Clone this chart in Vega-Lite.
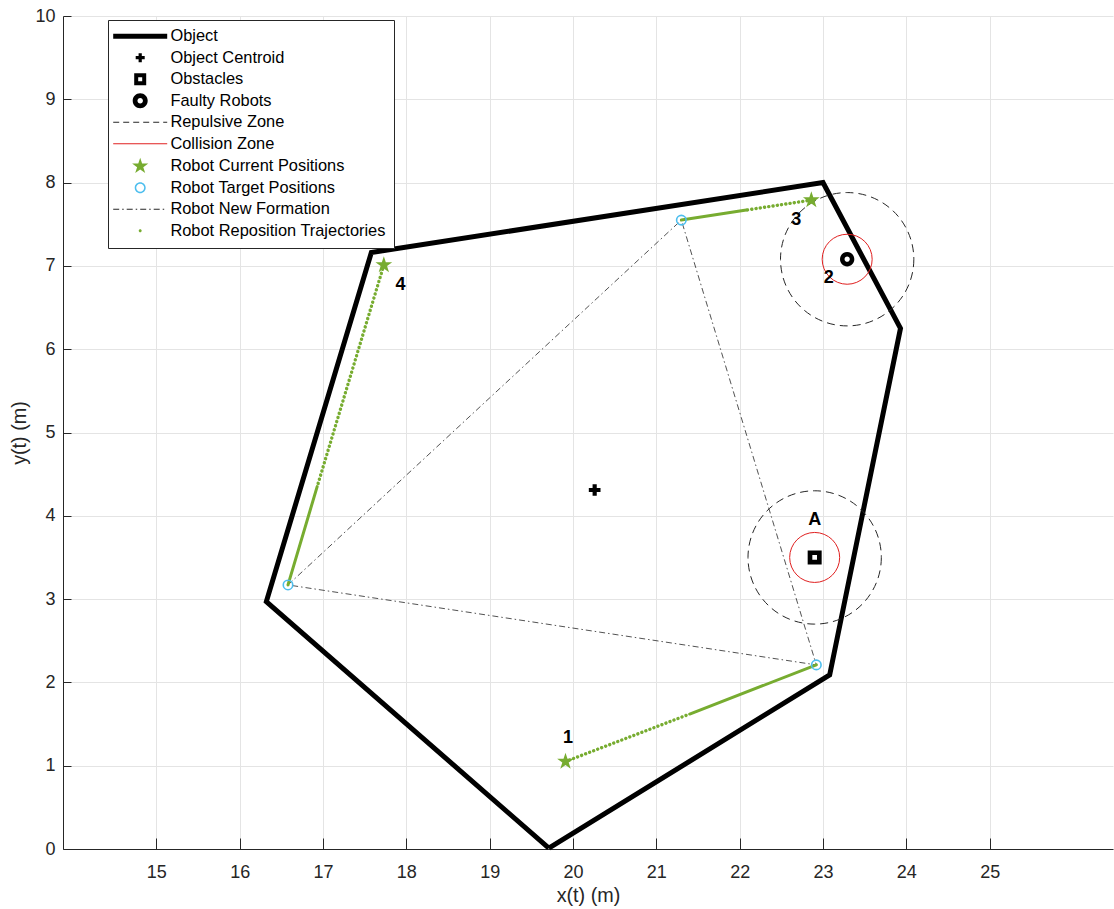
{
  "$schema": "https://vega.github.io/schema/vega-lite/v6.json",
  "width": 1050,
  "height": 833,
  "autosize": {"type": "none"},
  "padding": {"left": 63, "top": 16, "right": 1, "bottom": 60},
  "background": "#ffffff",
  "config": {
    "view": {"stroke": null},
    "axis": {
      "labelFont": "Liberation Sans",
      "titleFont": "Liberation Sans",
      "labelFontSize": 18,
      "titleFontSize": 19.8,
      "titleFontWeight": "normal",
      "labelColor": "#262626",
      "titleColor": "#262626",
      "domainColor": "#262626",
      "domainWidth": 1,
      "tickColor": "#262626",
      "tickWidth": 1,
      "gridColor": "#e4e4e4",
      "gridWidth": 1,
      "labelFlush": false,
      "labelOverlap": false
    }
  },
  "datasets": {
    "object": [
      {"i": 0, "x": 19.71, "y": 0.01},
      {"i": 1, "x": 16.32, "y": 2.97},
      {"i": 2, "x": 17.58, "y": 7.16},
      {"i": 3, "x": 23.0, "y": 8.0},
      {"i": 4, "x": 23.93, "y": 6.25},
      {"i": 5, "x": 23.08, "y": 2.09},
      {"i": 6, "x": 19.71, "y": 0.01}
    ],
    "zones": [
      {"series": "Repulsive Zone", "site": "A", "x": 22.9, "y": 3.5, "r": 0.8},
      {"series": "Repulsive Zone", "site": "2", "x": 23.29, "y": 7.08, "r": 0.8},
      {"series": "Collision Zone", "site": "A", "x": 22.9, "y": 3.5, "r": 0.3},
      {"series": "Collision Zone", "site": "2", "x": 23.29, "y": 7.08, "r": 0.3}
    ],
    "formation": [
      {"i": 0, "x": 16.58, "y": 3.17},
      {"i": 1, "x": 21.3, "y": 7.55},
      {"i": 2, "x": 22.92, "y": 2.21},
      {"i": 3, "x": 16.58, "y": 3.17}
    ],
    "paths": [
      {"robot": 1, "part": "dotted", "i": 0, "x": 19.91, "y": 1.05},
      {"robot": 1, "part": "dotted", "i": 1, "x": 21.4, "y": 1.62},
      {"robot": 1, "part": "solid", "i": 0, "x": 21.4, "y": 1.62},
      {"robot": 1, "part": "solid", "i": 1, "x": 22.92, "y": 2.21},
      {"robot": 3, "part": "dotted", "i": 0, "x": 22.86, "y": 7.79},
      {"robot": 3, "part": "dotted", "i": 1, "x": 22.08, "y": 7.67},
      {"robot": 3, "part": "solid", "i": 0, "x": 22.08, "y": 7.67},
      {"robot": 3, "part": "solid", "i": 1, "x": 21.3, "y": 7.55},
      {"robot": 4, "part": "dotted", "i": 0, "x": 17.73, "y": 7.01},
      {"robot": 4, "part": "dotted", "i": 1, "x": 16.93, "y": 4.35},
      {"robot": 4, "part": "solid", "i": 0, "x": 16.93, "y": 4.35},
      {"robot": 4, "part": "solid", "i": 1, "x": 16.58, "y": 3.17}
    ],
    "markers": [
      {"series": "Object Centroid", "x": 20.26, "y": 4.31},
      {"series": "Obstacles", "x": 22.9, "y": 3.5},
      {"series": "Faulty Robots", "x": 23.29, "y": 7.08},
      {"series": "Robot Current Positions", "robot": 1, "x": 19.91, "y": 1.05},
      {"series": "Robot Current Positions", "robot": 3, "x": 22.86, "y": 7.79},
      {"series": "Robot Current Positions", "robot": 4, "x": 17.73, "y": 7.01},
      {"series": "Robot Target Positions", "robot": 1, "x": 22.92, "y": 2.21},
      {"series": "Robot Target Positions", "robot": 3, "x": 21.3, "y": 7.55},
      {"series": "Robot Target Positions", "robot": 4, "x": 16.58, "y": 3.17}
    ],
    "labels": [
      {"label": "1", "x": 19.94, "y": 1.33},
      {"label": "2", "x": 23.07, "y": 6.85},
      {"label": "3", "x": 22.68, "y": 7.55},
      {"label": "4", "x": 17.93, "y": 6.77},
      {"label": "A", "x": 22.9, "y": 3.95}
    ]
  },
  "layer": [
    {
      "data": {"name": "object"},
      "mark": {"type": "line", "color": "#000000", "strokeWidth": 5, "strokeJoin": "miter", "strokeCap": "butt"},
      "encoding": {
        "x": {
          "field": "x", "type": "quantitative",
          "scale": {"domain": [13.88, 26.48], "nice": false, "zero": false},
          "axis": {"title": "x(t) (m)", "values": [15, 16, 17, 18, 19, 20, 21, 22, 23, 24, 25], "format": "d", "grid": true, "tickSize": -11, "labelPadding": 25, "titlePadding": 4}
        },
        "y": {
          "field": "y", "type": "quantitative",
          "scale": {"domain": [0, 10], "nice": false, "zero": false},
          "axis": {"title": "y(t) (m)", "values": [0, 1, 2, 3, 4, 5, 6, 7, 8, 9, 10], "format": "d", "grid": true, "tickSize": -8, "labelPadding": 16, "titlePadding": 5}
        },
        "order": {"field": "i", "type": "quantitative"}
      }
    },
    {
      "data": {"name": "zones"},
      "transform": [{"filter": "datum.series === 'Repulsive Zone'"}],
      "mark": {"type": "point", "shape": "circle", "filled": false, "stroke": "#262626", "strokeWidth": 1, "strokeDash": [8, 5], "opacity": 1},
      "encoding": {
        "x": {"field": "x", "type": "quantitative"},
        "y": {"field": "y", "type": "quantitative"},
        "size": {"field": "r", "type": "quantitative", "scale": {"type": "pow", "exponent": 2, "domain": [0, 1], "range": [0, 27778]}, "legend": null}
      }
    },
    {
      "data": {"name": "zones"},
      "transform": [{"filter": "datum.series === 'Collision Zone'"}],
      "mark": {"type": "point", "shape": "circle", "filled": false, "stroke": "#e02020", "strokeWidth": 1, "opacity": 1},
      "encoding": {
        "x": {"field": "x", "type": "quantitative"},
        "y": {"field": "y", "type": "quantitative"},
        "size": {"field": "r", "type": "quantitative", "legend": null}
      }
    },
    {
      "data": {"name": "formation"},
      "mark": {"type": "line", "color": "#262626", "strokeWidth": 0.8, "strokeDash": [6, 3, 1.5, 3]},
      "encoding": {
        "x": {"field": "x", "type": "quantitative"},
        "y": {"field": "y", "type": "quantitative"},
        "order": {"field": "i", "type": "quantitative"}
      }
    },
    {
      "data": {"name": "paths"},
      "transform": [{"filter": "datum.part === 'dotted'"}],
      "mark": {"type": "line", "color": "#77ac30", "strokeWidth": 3.4, "strokeCap": "round", "strokeDash": [0.1, 4.2]},
      "encoding": {
        "x": {"field": "x", "type": "quantitative"},
        "y": {"field": "y", "type": "quantitative"},
        "detail": {"field": "robot", "type": "nominal"},
        "order": {"field": "i", "type": "quantitative"}
      }
    },
    {
      "data": {"name": "paths"},
      "transform": [{"filter": "datum.part === 'solid'"}],
      "mark": {"type": "line", "color": "#77ac30", "strokeWidth": 3, "strokeCap": "round"},
      "encoding": {
        "x": {"field": "x", "type": "quantitative"},
        "y": {"field": "y", "type": "quantitative"},
        "detail": {"field": "robot", "type": "nominal"},
        "order": {"field": "i", "type": "quantitative"}
      }
    },
    {
      "data": {"name": "markers"},
      "transform": [{"filter": "datum.series === 'Robot Target Positions'"}],
      "mark": {"type": "point", "shape": "circle", "filled": false, "stroke": "#4dbeee", "strokeWidth": 1.6, "size": 90, "opacity": 1},
      "encoding": {
        "x": {"field": "x", "type": "quantitative"},
        "y": {"field": "y", "type": "quantitative"}
      }
    },
    {
      "data": {"name": "markers"},
      "transform": [{"filter": "datum.series === 'Robot Current Positions'"}],
      "mark": {"type": "point", "shape": "M0,-1L0.2245,-0.309L0.951,-0.309L0.3633,0.118L0.5878,0.809L0,0.382L-0.5878,0.809L-0.3633,0.118L-0.951,-0.309L-0.2245,-0.309Z", "filled": true, "fill": "#77ac30", "strokeWidth": 0, "size": 310, "opacity": 1},
      "encoding": {
        "x": {"field": "x", "type": "quantitative"},
        "y": {"field": "y", "type": "quantitative"}
      }
    },
    {
      "data": {"name": "markers"},
      "transform": [{"filter": "datum.series === 'Obstacles'"}],
      "mark": {"type": "point", "shape": "M-1.2,-1.2H1.2V1.2H-1.2ZM-0.4,-0.4V0.4H0.4V-0.4Z", "filled": true, "fill": "#000000", "strokeWidth": 0, "size": 136, "opacity": 1},
      "encoding": {
        "x": {"field": "x", "type": "quantitative"},
        "y": {"field": "y", "type": "quantitative"}
      }
    },
    {
      "data": {"name": "markers"},
      "transform": [{"filter": "datum.series === 'Faulty Robots'"}],
      "mark": {"type": "point", "shape": "M1.5,0C1.5,0.828,0.828,1.5,0,1.5C-0.828,1.5,-1.5,0.828,-1.5,0C-1.5,-0.828,-0.828,-1.5,0,-1.5C0.828,-1.5,1.5,-0.828,1.5,0ZM0.55,0C0.55,-0.304,0.304,-0.55,0,-0.55C-0.304,-0.55,-0.55,-0.304,-0.55,0C-0.55,0.304,-0.304,0.55,0,0.55C0.304,0.55,0.55,0.304,0.55,0Z", "filled": true, "fill": "#000000", "strokeWidth": 0, "size": 91, "opacity": 1},
      "encoding": {
        "x": {"field": "x", "type": "quantitative"},
        "y": {"field": "y", "type": "quantitative"}
      }
    },
    {
      "data": {"name": "markers"},
      "transform": [{"filter": "datum.series === 'Object Centroid'"}],
      "mark": {"type": "point", "filled": true, "strokeWidth": 0, "size": 169, "opacity": 1},
      "encoding": {
        "x": {"field": "x", "type": "quantitative"},
        "y": {"field": "y", "type": "quantitative"},
        "color": {
          "field": "series", "type": "nominal",
          "scale": {
            "domain": ["Object", "Object Centroid", "Obstacles", "Faulty Robots", "Repulsive Zone", "Collision Zone", "Robot Current Positions", "Robot Target Positions", "Robot New Formation", "Robot Reposition Trajectories"],
            "range": ["#000000", "#000000", "#000000", "#000000", "#262626", "#e02020", "#77ac30", "#4dbeee", "#262626", "#77ac30"]
          },
          "legend": {
            "title": null,
            "orient": "none",
            "legendX": 45,
            "legendY": 4,
            "direction": "vertical",
            "padding": 8,
            "rowPadding": 4.5,
            "symbolSize": 100,
            "symbolStrokeWidth": 0,
            "symbolOffset": 16,
            "labelOffset": 22,
            "labelFont": "Liberation Sans",
            "labelFontSize": 16.4,
            "labelColor": "#000000",
            "labelLimit": 400,
            "strokeColor": "#262626",
            "fillColor": "#ffffff"
          }
        },
        "shape": {
          "field": "series", "type": "nominal",
          "scale": {
            "domain": ["Object", "Object Centroid", "Obstacles", "Faulty Robots", "Repulsive Zone", "Collision Zone", "Robot Current Positions", "Robot Target Positions", "Robot New Formation", "Robot Reposition Trajectories"],
            "range": [
              "M-5.4,-0.5H5.4V0.5H-5.4Z",
              "M-0.9,-0.32H-0.32V-0.9H0.32V-0.32H0.9V0.32H0.32V0.9H-0.32V0.32H-0.9Z",
              "M-1.2,-1.2H1.2V1.2H-1.2ZM-0.4,-0.4V0.4H0.4V-0.4Z",
              "M1.5,0C1.5,0.828,0.828,1.5,0,1.5C-0.828,1.5,-1.5,0.828,-1.5,0C-1.5,-0.828,-0.828,-1.5,0,-1.5C0.828,-1.5,1.5,-0.828,1.5,0ZM0.55,0C0.55,-0.304,0.304,-0.55,0,-0.55C-0.304,-0.55,-0.55,-0.304,-0.55,0C-0.55,0.304,-0.304,0.55,0,0.55C0.304,0.55,0.55,0.304,0.55,0Z",
              "M-5.4,-0.1H-4.2V0.1H-5.4ZM-3.4,-0.1H-2.2V0.1H-3.4ZM-1.4,-0.1H-0.2V0.1H-1.4ZM0.6,-0.1H1.8V0.1H0.6ZM2.6,-0.1H3.8V0.1H2.6ZM4.6,-0.1H5.4V0.1H4.6Z",
              "M-5.4,-0.1H5.4V0.1H-5.4Z",
              "M0,-1.7L0.382,-0.525L1.617,-0.525L0.618,0.201L0.999,1.375L0,0.649L-0.999,1.375L-0.618,0.201L-1.617,-0.525L-0.382,-0.525Z",
              "M1.1,0C1.1,0.608,0.608,1.1,0,1.1C-0.608,1.1,-1.1,0.608,-1.1,0C-1.1,-0.608,-0.608,-1.1,0,-1.1C0.608,-1.1,1.1,-0.608,1.1,0ZM0.8,0C0.8,-0.442,0.442,-0.8,0,-0.8C-0.442,-0.8,-0.8,-0.442,-0.8,0C-0.8,0.442,-0.442,0.8,0,0.8C0.442,0.8,0.8,0.442,0.8,0Z",
              "M-5.4,-0.1H-4.2V0.1H-5.4ZM-3.6,-0.1H-3.3V0.1H-3.6ZM-2.7,-0.1H-1.5V0.1H-2.7ZM-0.9,-0.1H-0.6V0.1H-0.9ZM0,-0.1H1.2V0.1H0ZM1.8,-0.1H2.1V0.1H1.8ZM2.7,-0.1H3.9V0.1H2.7ZM4.5,-0.1H4.8V0.1H4.5Z",
              "M0.3,0C0.3,0.166,0.166,0.3,0,0.3C-0.166,0.3,-0.3,0.166,-0.3,0C-0.3,-0.166,-0.166,-0.3,0,-0.3C0.166,-0.3,0.3,-0.166,0.3,0Z"
            ]
          }
        }
      }
    },
    {
      "data": {"name": "labels"},
      "mark": {"type": "text", "font": "Liberation Sans", "fontSize": 18, "fontWeight": "bold", "color": "#000000", "align": "center", "baseline": "middle"},
      "encoding": {
        "x": {"field": "x", "type": "quantitative"},
        "y": {"field": "y", "type": "quantitative"},
        "text": {"field": "label", "type": "nominal"}
      }
    }
  ]
}
